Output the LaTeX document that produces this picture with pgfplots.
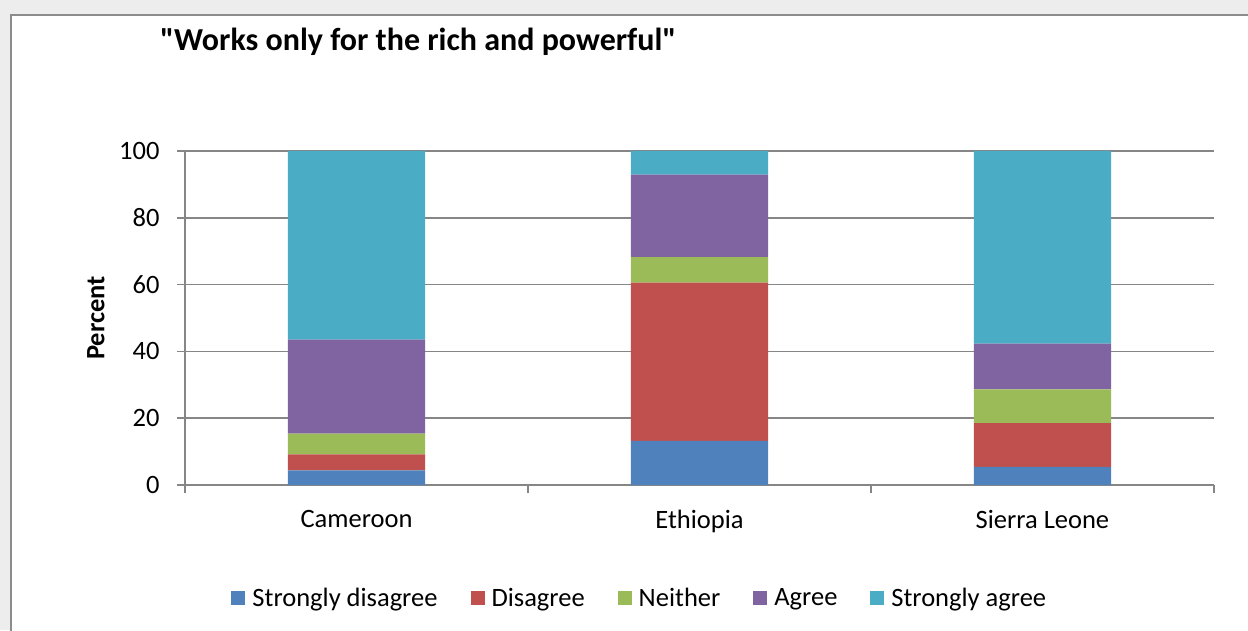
\documentclass[border=0pt]{standalone}
\usepackage{pgfplots}
\pgfplotsset{compat=1.18}
\usepackage{fontspec}
\setmainfont{Carlito}
\newfontfamily\titlefont{Carlito}
\definecolor{c1}{HTML}{4F81BD}
\definecolor{c2}{HTML}{C0504D}
\definecolor{c3}{HTML}{9BBB59}
\definecolor{c4}{HTML}{8064A2}
\definecolor{c5}{HTML}{4BACC6}
\definecolor{gridgray}{HTML}{868686}
\definecolor{bggray}{HTML}{EDEDED}
\definecolor{bordergray}{HTML}{8C8C8C}
\begin{document}
\begin{tikzpicture}[x=1pt,y=1pt]
\useasboundingbox (0,0) rectangle (1248,630);
\fill[bggray] (0,0) rectangle (1248,630);
\filldraw[fill=white, draw=bordergray, line width=2pt] (11,-20) rectangle (1270,615);
\node[anchor=west, font=\titlefont\fontsize{32}{38}\selectfont\bfseries, inner sep=0pt] at (160,588) {"Works only for the rich and powerful"};
\begin{axis}[
  at={(185pt,145pt)}, anchor=south west,
  scale only axis, width=1029pt, height=334pt,
  ybar stacked, bar width=0.4,
  xmin=-0.5, xmax=2.5, ymin=0, ymax=100,
  xtick={-0.5,0.5,1.5,2.5},
  xticklabels={Cameroon,Ethiopia,Sierra Leone},
  x tick label as interval,
  ytick={0,20,...,100},
  ymajorgrids,
  grid style={gridgray, line width=1.5pt},
  axis lines*=left,
  axis line style={gridgray, line width=1.5pt},
  tick style={gridgray, line width=1.5pt},
  tick align=outside,
  major tick length=8pt,
  /pgf/number format/assume math mode=true,
  tick label style={font=\fontsize{26.5}{32}\selectfont, text=black},
  xticklabel style={yshift=-14pt},
  yticklabel style={xshift=-14pt},
  ylabel={Percent},
  every axis y label/.style={at={(axis description cs:-0.0865,0.5)}, rotate=90, anchor=center,
    font=\fontsize{26.5}{32}\selectfont\bfseries},
  legend columns=5,
  legend image code/.code={\fill[#1] (0pt,-7pt) rectangle (14pt,7pt);},
  legend style={at={(0.442,-0.338)}, anchor=center, draw=none, fill=none,
    font=\fontsize{26.5}{32}\selectfont,
    /tikz/every odd column/.append style={column sep=5pt},
    /tikz/every even column/.append style={column sep=31pt}},
]
\addplot[fill=c1, draw=none] coordinates {(0,4.4) (1,13.2) (2,5.4)};
\addplot[fill=c2, draw=none] coordinates {(0,4.8) (1,47.4) (2,13.1)};
\addplot[fill=c3, draw=none] coordinates {(0,6.2) (1,7.6) (2,10.1)};
\addplot[fill=c4, draw=none] coordinates {(0,28.1) (1,24.7) (2,13.7)};
\addplot[fill=c5, draw=none] coordinates {(0,56.5) (1,7.1) (2,57.7)};
\legend{Strongly disagree,Disagree,Neither,Agree,Strongly agree}
\end{axis}
\end{tikzpicture}
\end{document}
